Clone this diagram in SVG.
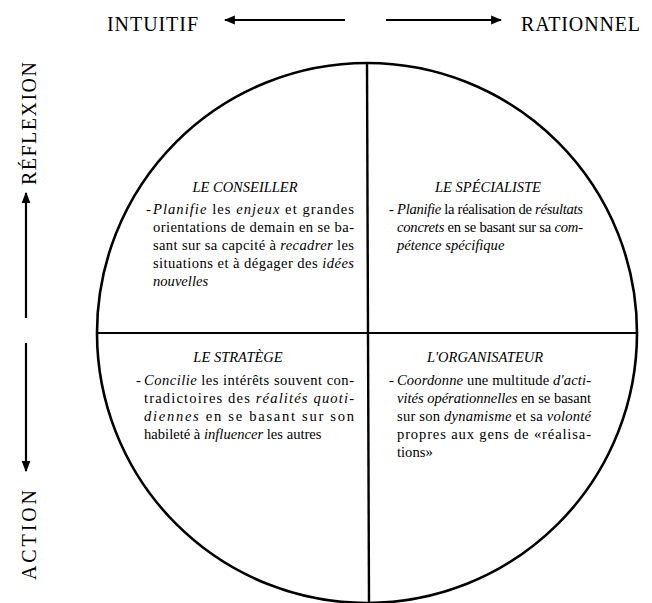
<svg xmlns="http://www.w3.org/2000/svg" width="652" height="603" viewBox="0 0 652 603">
<defs>
<style>
text{font-family:"Liberation Serif","Times New Roman",serif;fill:#000}
.lbl{font-size:20px}
.ttl{font-size:14.5px;font-style:italic;text-anchor:middle}
.b{font-size:14.6px}
.i{font-style:italic}
.ln{stroke:#000;fill:none}
</style>
<marker id="ah" viewBox="0 0 10 10" refX="9" refY="5" markerWidth="11" markerHeight="11" markerUnits="userSpaceOnUse" orient="auto">
<path d="M0,1 L10,5 L0,9 Z" fill="#000"/>
</marker>
</defs>
<rect width="652" height="603" fill="#fff"/>

<g id="axes">
<text class="lbl" x="107" y="31" textLength="91" lengthAdjust="spacing">INTUITIF</text>
<text class="lbl" x="521" y="31" textLength="119" lengthAdjust="spacing">RATIONNEL</text>
<text class="lbl" transform="translate(36,185) rotate(-90)" textLength="123" lengthAdjust="spacing">RÉFLEXION</text>
<text class="lbl" transform="translate(36,580) rotate(-90)" textLength="90" lengthAdjust="spacing">ACTION</text>
</g>

<g id="connectors">
<line class="ln" stroke-width="2.2" x1="345" y1="20" x2="225" y2="20" marker-end="url(#ah)"/>
<line class="ln" stroke-width="2.2" x1="386" y1="20" x2="501" y2="20" marker-end="url(#ah)"/>
<line class="ln" stroke-width="2.2" x1="26" y1="318" x2="26" y2="193" marker-end="url(#ah)"/>
<line class="ln" stroke-width="2.2" x1="26" y1="343" x2="26" y2="471" marker-end="url(#ah)"/>
</g>

<g id="circle">
<circle class="ln" cx="367" cy="333" r="270" stroke-width="2.6"/>
<line class="ln" stroke-width="2.2" x1="97" y1="333" x2="637" y2="333"/>
<line class="ln" stroke-width="2.4" x1="367" y1="63" x2="369" y2="603"/>
</g>

<g id="conseiller">
<text class="ttl" x="245" y="192">LE CONSEILLER</text>
<text class="b" x="146" y="214">-</text>
<text class="b" x="153" y="214" textLength="201" lengthAdjust="spacing"><tspan class="i">Planifie</tspan> les <tspan class="i">enjeux</tspan> et grandes</text>
<text class="b" x="153" y="232" textLength="201" lengthAdjust="spacing">orientations de demain en se ba-</text>
<text class="b" x="153" y="250" textLength="201" lengthAdjust="spacing">sant sur sa capcité à <tspan class="i">recadrer</tspan> les</text>
<text class="b" x="153" y="268" textLength="201" lengthAdjust="spacing">situations et à dégager des <tspan class="i">idées</tspan></text>
<text class="b i" x="153" y="286">nouvelles</text>
</g>

<g id="specialiste">
<text class="ttl" x="488" y="192">LE SPÉCIALISTE</text>
<text class="b" x="389" y="214">-</text>
<text class="b" x="397" y="214" textLength="186" lengthAdjust="spacing"><tspan class="i">Planifie</tspan> la réalisation de <tspan class="i">résultats</tspan></text>
<text class="b" x="397" y="232" textLength="186" lengthAdjust="spacing"><tspan class="i">concrets</tspan> en se basant sur sa <tspan class="i">com-</tspan></text>
<text class="b i" x="397" y="250">pétence spécifique</text>
</g>

<g id="stratege">
<text class="ttl" x="238" y="362">LE STRATÈGE</text>
<text class="b" x="136" y="385">-</text>
<text class="b" x="144" y="385" textLength="210" lengthAdjust="spacing"><tspan class="i">Concilie</tspan> les intérêts souvent con-</text>
<text class="b" x="144" y="403" textLength="210" lengthAdjust="spacing">tradictoires des <tspan class="i">réalités quoti-</tspan></text>
<text class="b" x="144" y="421" textLength="210" lengthAdjust="spacing"><tspan class="i">diennes</tspan> en se basant sur son</text>
<text class="b" x="144" y="439">habileté à <tspan class="i">influencer</tspan> les autres</text>
</g>

<g id="organisateur">
<text class="ttl" x="485" y="362">L'ORGANISATEUR</text>
<text class="b" x="389" y="385">-</text>
<text class="b" x="397" y="385" textLength="194" lengthAdjust="spacing"><tspan class="i">Coordonne</tspan> une multitude <tspan class="i">d'acti-</tspan></text>
<text class="b" x="397" y="403" textLength="194" lengthAdjust="spacing"><tspan class="i">vités opérationnelles</tspan> en se basant</text>
<text class="b" x="397" y="421" textLength="194" lengthAdjust="spacing">sur son <tspan class="i">dynamisme</tspan> et sa <tspan class="i">volonté</tspan></text>
<text class="b" x="397" y="439" textLength="194" lengthAdjust="spacing">propres aux gens de «réalisa-</text>
<text class="b" x="397" y="457">tions»</text>
</g>
</svg>
